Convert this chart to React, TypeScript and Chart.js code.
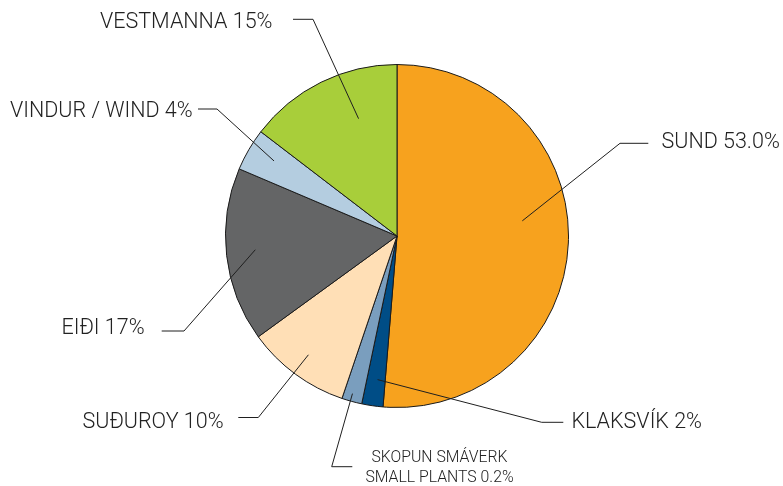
import React, { useEffect, useRef } from "react";
import { Chart, registerables } from "chart.js";

Chart.register(...registerables);

// Data (clockwise from 12 o'clock)
const categories = ["Sund", "Klaksvík", "Skopun smáverk", "Suðuroy", "Eiði", "Vindur", "Vestmanna"];
const shares = [51.3, 2.0, 1.9, 9.8, 16.4, 4.0, 14.6];
const labelTexts: string[][] = [
  ["SUND 53.0%"],
  ["KLAKSVÍK 2%"],
  ["SKOPUN SMÁVERK", "SMALL PLANTS 0.2%"],
  ["SUÐUROY 10%"],
  ["EIÐI 17%"],
  ["VINDUR / WIND 4%"],
  ["VESTMANNA 15%"],
];
const sliceColors = ["#F7A21E", "#004D86", "#7A9EBE", "#FFDFB6", "#646566", "#B4CDE0", "#A8CE3A"];

// Layout of leader lines / labels (styling, not data)
type LabelLayout = {
  f: number; // position along slice angle (0..1)
  rf: number; // fraction of radius for anchor
  elbow: [number, number];
  end: [number, number];
  tx: number;
  ty: number;
  align: CanvasTextAlign;
  small?: boolean;
};
const labelLayout: LabelLayout[] = [
  { f: 0.45, rf: 0.736, elbow: [620, 143.3], end: [648.3, 143.3], tx: 661.5, ty: 142.5, align: "left" },
  { f: 0.42, rf: 0.845, elbow: [541.7, 422.3], end: [563.3, 422.3], tx: 571.5, ty: 422.5, align: "left" },
  { f: 0.57, rf: 0.955, elbow: [331.7, 466.7], end: [352.3, 466.7], tx: 439.5, ty: 458.5, align: "center", small: true },
  { f: 0.51, rf: 0.864, elbow: [258.3, 417.5], end: [238.3, 417.5], tx: 82.5, ty: 422.5, align: "left" },
  { f: 0.516, rf: 0.83, elbow: [184, 331], end: [161.7, 331], tx: 61.5, ty: 329, align: "left" },
  { f: 0.58, rf: 0.84, elbow: [217, 109], end: [198, 109], tx: 10, ty: 111.5, align: "left" },
  { f: 0.655, rf: 0.72, elbow: [313, 19.3], end: [293, 19.3], tx: 100, ty: 22.5, align: "left" },
];

const leaderPlugin = {
  id: "leaderLabels",
  afterDatasetsDraw(chart: any) {
    const ctx: CanvasRenderingContext2D = chart.ctx;
    const meta = chart.getDatasetMeta(0);
    ctx.save();
    meta.data.forEach((arc: any, i: number) => {
      const L = labelLayout[i];
      if (!L) return;
      const { x, y, startAngle, endAngle, outerRadius } = arc.getProps(
        ["x", "y", "startAngle", "endAngle", "outerRadius"],
        true
      );
      const a = startAngle + L.f * (endAngle - startAngle);
      const ax = x + Math.cos(a) * outerRadius * L.rf;
      const ay = y + Math.sin(a) * outerRadius * L.rf;
      ctx.beginPath();
      ctx.strokeStyle = "#1f1f1f";
      ctx.lineWidth = 1;
      ctx.moveTo(ax, ay);
      ctx.lineTo(L.elbow[0], L.elbow[1]);
      ctx.lineTo(L.end[0], L.end[1]);
      ctx.stroke();

      ctx.fillStyle = "#222222";
      ctx.textAlign = L.align;
      ctx.textBaseline = "middle";
      const size = L.small ? 15.8 : 21.5;
      ctx.font = `300 ${size}px Roboto`;
      const lines = labelTexts[i];
      lines.forEach((t, k) => {
        ctx.fillText(t, L.tx, L.ty + k * 20);
      });
    });
    ctx.restore();
  },
};

export default function App() {
  const ref = useRef<HTMLCanvasElement | null>(null);
  useEffect(() => {
    if (!ref.current) return;
    const chart = new Chart(ref.current, {
      type: "pie",
      data: {
        labels: categories,
        datasets: [
          {
            data: shares,
            backgroundColor: sliceColors,
            borderColor: "#1a1a1a",
            borderWidth: 1,
          },
        ],
      },
      options: {
        responsive: false,
        animation: false,
        layout: { padding: { left: 225, right: 214, top: 64, bottom: 78 } },
        plugins: {
          legend: { display: false },
          tooltip: { enabled: false },
        },
      },
      plugins: [leaderPlugin],
    });
    return () => chart.destroy();
  }, []);
  return (
    <div style={{ position: "absolute", left: 0, top: 0, width: 783, height: 486, background: "#fff" }}>
      <canvas ref={ref} width={783} height={486} style={{ width: 783, height: 486, display: "block" }} />
    </div>
  );
}
